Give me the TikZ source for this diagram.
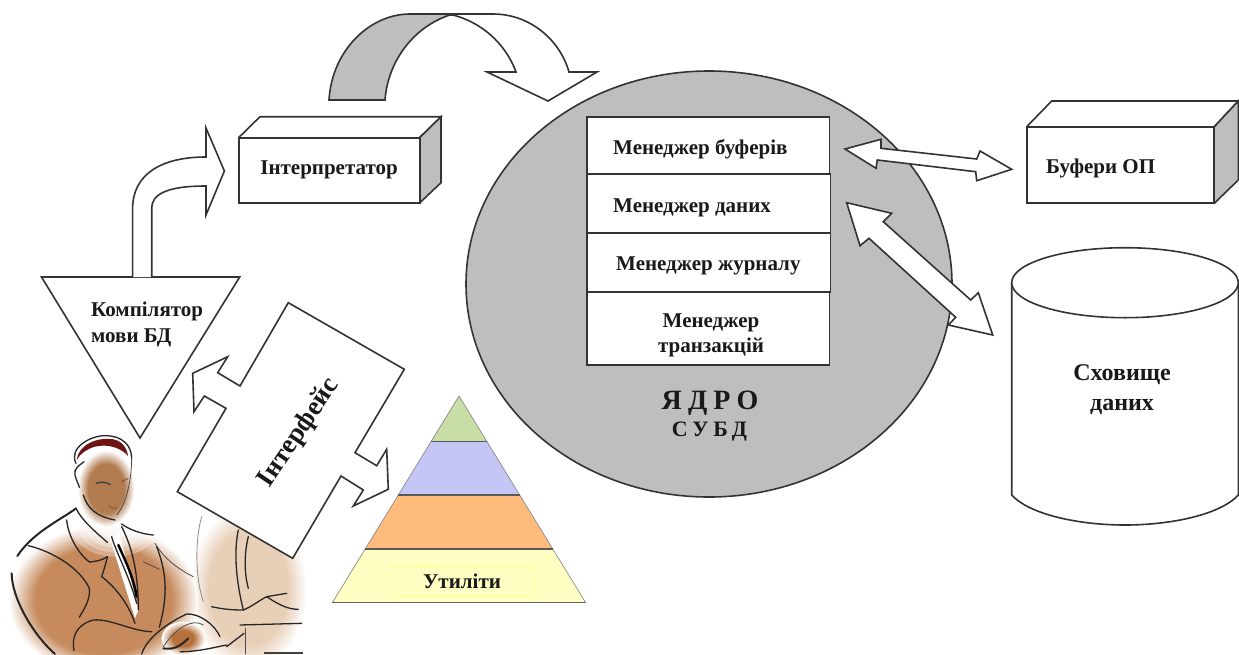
\documentclass[tikz,border=0pt]{standalone}
\usepackage{fontspec}
\setmainfont{Liberation Serif}
\definecolor{lineC}{HTML}{333333}
\definecolor{greyC}{HTML}{BEBEBE}
\definecolor{brownA}{HTML}{C68A5C}
\definecolor{faceA}{HTML}{B27B50}
\definecolor{beigeA}{HTML}{E8CFB8}
\definecolor{handA}{HTML}{B5703C}
\definecolor{hairA}{HTML}{6E1414}
\definecolor{pyrG}{HTML}{C9DDA6}
\definecolor{pyrB}{HTML}{C6C6F6}
\definecolor{pyrO}{HTML}{FFBB7C}
\definecolor{pyrY}{HTML}{FFFFC4}
\definecolor{pyrL}{HTML}{FFFF9E}
\pgfdeclareradialshading{softbody}{\pgfpoint{0bp}{0bp}}{color(0bp)=(brownA); color(18bp)=(brownA); color(25bp)=(white); color(50bp)=(white)}
\pgfdeclareradialshading{softface}{\pgfpoint{0bp}{0bp}}{color(0bp)=(faceA); color(16bp)=(faceA); color(25bp)=(white); color(50bp)=(white)}
\pgfdeclareradialshading{softbeige}{\pgfpoint{0bp}{0bp}}{color(0bp)=(beigeA); color(17bp)=(beigeA); color(25bp)=(white); color(50bp)=(white)}
\pgfdeclareradialshading{softhand}{\pgfpoint{0bp}{0bp}}{color(0bp)=(handA); color(12bp)=(handA); color(25bp)=(white); color(50bp)=(white)}
\tikzset{
  outl/.style={draw=lineC,line width=1.6pt,line join=miter},
  blockarrow/.style={outl,fill=white},
  lbl/.style={font=\fontsize{21}{25}\selectfont\bfseries,text=black!90,inner sep=0pt,align=center},
  brush/.style={draw=black!85,line width=1.3pt,line cap=round},
  brushB/.style={draw=black!85,line width=2pt,line cap=round},
  brushL/.style={draw=black!70,line width=.8pt,line cap=round},
  brushG/.style={draw=black!45,line width=.8pt,line cap=round},
}
\begin{document}
\begin{tikzpicture}[x=1pt,y=-1pt]
\useasboundingbox (0,0) rectangle (1239,654);
\fill[white] (0,0) rectangle (1239,654);

% person
\begin{scope}[shift={(0,380)},x=0.33333pt,y=-0.33333pt]
\shade[shading=softbeige] (745,625) ellipse [x radius=175,y radius=250];
\shade[shading=softbody] (310,660) ellipse [x radius=285,y radius=225];
\foreach \r in {1,.85,.7,.55,.4}{\fill[white,opacity=.3] (345,440) ellipse [x radius=130*\r,y radius=90*\r];}
\shade[shading=softface] (318,325) ellipse [x radius=85,y radius=115];
\shade[shading=softhand] (550,775) ellipse [x radius=65,y radius=50];
\fill[white] (330,475) -- (358,460) -- (415,690) -- (405,715) -- cycle;
\fill[hairA] (230,240) .. controls (235,195) and (290,170) .. (340,178) .. controls (365,182) and (382,205) .. (384,228) .. controls (365,205) and (325,190) .. (285,200) .. controls (260,207) and (240,222) .. (230,240) -- cycle;
\path[brush] (228,250) .. controls (205,205) and (270,165) .. (320,167) .. controls (365,168) and (395,195) .. (395,235);
\path[brushL] (395,235) .. controls (395,270) and (390,310) .. (380,345) .. controls (375,365) and (360,395) .. (350,405);
\path[brush] (252,245) .. controls (240,255) and (220,265) .. (225,285) .. controls (228,300) and (235,310) .. (238,322);
\path[brush] (250,345) .. controls (262,385) and (290,410) .. (345,420);
\path[draw=black!75,line width=1.4pt] (288,310) .. controls (300,305) and (320,306) .. (332,314);
\path[draw=faceA!70!black,line width=1pt] (365,305) -- (385,295);
\path[draw=faceA!80!black,line width=1.2pt] (325,376) .. controls (335,386) and (345,388) .. (352,382);
\path[brushB] (228,385) .. controls (190,415) and (100,455) .. (52,528);
\path[brush] (228,385) .. controls (245,420) and (280,450) .. (322,487);
\path[brush] (200,420) .. controls (205,470) and (235,520) .. (268,546) .. controls (285,545) and (310,540) .. (322,530);
\path[brush] (322,530) .. controls (318,550) and (310,575) .. (305,590) .. controls (345,620) and (385,670) .. (405,730);
\path[brush] (85,497) .. controls (160,515) and (240,565) .. (268,625) .. controls (272,660) and (250,690) .. (238,712);
\path[brushB] (35,580) .. controls (35,650) and (95,760) .. (165,822);
\path[brush] (222,812) .. controls (215,775) and (225,735) .. (280,720) .. controls (330,715) and (400,755) .. (455,755);
\path[brush] (335,470) .. controls (345,510) and (385,580) .. (410,670);
\path[draw=black,line width=2.4pt,line cap=round] (355,495) .. controls (375,540) and (400,590) .. (410,650);
\path[brush] (365,440) .. controls (390,490) and (415,560) .. (415,690);
\path[brush] (365,432) .. controls (390,450) and (425,462) .. (460,465);
\path[brushL] (430,545) -- (478,568);
\path[brushL] (465,490) .. controls (495,540) and (540,570) .. (580,590);
\path[brush] (470,500) .. controls (505,590) and (500,660) .. (478,742);
\path[brush] (425,822) .. controls (440,775) and (500,730) .. (560,702) .. controls (600,700) and (645,735) .. (660,770);
\path[brushL] (490,800) .. controls (530,740) and (580,715) .. (610,735);
\path[brushB] (490,805) .. controls (520,810) and (540,800) .. (565,775);
\path[brush] (540,815) .. controls (600,815) and (650,800) .. (680,795);
\path[brush] (680,800) -- (732,760);
\path[brushG] (605,410) .. controls (585,480) and (585,590) .. (610,665);
\path[brush] (715,450) .. controls (700,520) and (710,610) .. (730,690);
\path[brush] (745,470) .. controls (730,530) and (735,590) .. (745,625);
\path[brush] (635,680) .. controls (670,688) and (700,690) .. (730,690) .. controls (755,680) and (780,660) .. (800,650) -- (860,640);
\path[brush] (800,650) .. controls (830,670) and (860,688) .. (895,688);
\path[brush] (720,735) -- (905,730);
\path[brushL] (735,745) -- (735,822);
\path[draw=black!75,line width=1.2pt] (792,819) -- (908,819);
\end{scope}

% compiler triangle
\draw[outl] (41.5,277) -- (239.7,277) -- (140,438) -- cycle;
\node[lbl,anchor=west] (compA) at (91,311) {Компілятор};
\node[lbl,anchor=west] (compB) at (91,338) {мови БД};

% arrow compiler -> interpreter
\draw[blockarrow] (132.6,277) -- (132.6,208) .. controls (133,175) and (160,157) .. (206,157) -- (206,128) -- (224.4,171) -- (206,215) -- (206,186) .. controls (165,186) and (152,195) .. (151.7,208) -- (151.7,277);

% interpreter box
\draw[outl] (238.6,137.7) -- (260,116.7) -- (441,116.7) -- (419.6,137.7);
\fill[greyC] (419.6,137.7) -- (441,116.7) -- (441,182.7) -- (419.6,203) -- cycle;
\draw[outl] (419.6,137.7) -- (441,116.7) -- (441,182.7) -- (419.6,203);
\node[draw=lineC,line width=1.8pt,fill=white,minimum width=181pt,minimum height=65.3pt,inner sep=0pt,font=\fontsize{21}{25}\selectfont\bfseries,text=black!90] (interp) at (329.1,170.3) {Інтерпретатор};

% kernel
\fill[greyC] (709,284) ellipse [x radius=243,y radius=213];
\draw[outl] (709,284) ellipse [x radius=243,y radius=213];

% top arrow
\draw[blockarrow] (410,14) -- (493,14) .. controls (530,14) and (560,40) .. (569,72) -- (597,72) -- (548,101) -- (487,72) -- (516,72) .. controls (505,42) and (480,22) .. (453,15) -- cycle;
\draw[outl,fill=greyC] (329,100) .. controls (332,50) and (370,14) .. (410,14) -- (453,14) .. controls (415,25) and (388,60) .. (385,100) -- cycle;

% stack
\draw[outl,fill=white] (586.7,116.7) rectangle (829.3,174);
\draw[outl,fill=white] (586.7,174) rectangle (830.3,232.7);
\draw[outl,fill=white] (586.7,232.7) rectangle (830.3,291.7);
\draw[outl,fill=white] (586.7,291.7) rectangle (829.3,365);
\node[lbl,anchor=west] (mb) at (613,149) {Менеджер буферів};
\node[lbl,anchor=west] (md) at (613,208) {Менеджер даних};
\node[lbl,anchor=west] (mj) at (616,265.7) {Менеджер журналу};
\node[lbl] (mt) at (711,335.5) {Менеджер\\транзакцій};
\node[lbl,font=\fontsize{28}{30}\selectfont\bfseries\addfontfeature{LetterSpace=22}] (yadro) at (710,403) {ЯДРО};
\node[lbl,font=\fontsize{22}{24}\selectfont\bfseries\addfontfeature{LetterSpace=22}] (subd) at (709.5,432) {СУБД};

% buffers box
\draw[outl] (1026.7,126.7) -- (1051.7,101) -- (1238.3,101) -- (1214.3,126.7);
\fill[greyC] (1214.3,126.7) -- (1238.3,101) -- (1238.3,180) -- (1214.3,203.3) -- cycle;
\draw[outl] (1214.3,126.7) -- (1238.3,101) -- (1238.3,180) -- (1214.3,203.3);
\draw[draw=lineC,line width=1.8pt,fill=white] (1026.7,126.7) rectangle (1214.3,203.3);
\node[lbl,anchor=west] (buf) at (1046,168) {Буфери ОП};

% cylinder
\draw[outl,fill=white] (1011.7,282.7) -- (1011.7,495) .. controls (1030,515) and (1080,525) .. (1125,525) .. controls (1170,525) and (1220,515) .. (1238.3,495) -- (1238.3,282.7);
\draw[outl,fill=white] (1125,282.7) ellipse [x radius=113.3,y radius=35];
\node[lbl,font=\fontsize{24}{30}\selectfont\bfseries] (store) at (1122,390) {Сховище\\даних};

% double arrows
\draw[blockarrow] (845,149) -- (881,139.3) -- (881,148.3) -- (976.7,159) -- (980,151) -- (1011.7,169.3) -- (976.7,180.7) -- (975.7,171.7) -- (877.3,160) -- (876,168.3) -- cycle;
\draw[blockarrow] (846.7,202.7) -- (891.7,213.3) -- (883.3,221.7) -- (970.7,300) -- (978.3,292.7) -- (992.7,335) -- (948.3,325) -- (955.7,317.3) -- (869,238.3) -- (860,245.7) -- cycle;

% pyramid
\fill[pyrY] (332.3,602.7) -- (585.7,602.7) -- (552.8,549) -- (365.2,549) -- cycle;
\fill[pyrO] (365.2,549) -- (552.8,549) -- (519.7,495) -- (398.3,495) -- cycle;
\fill[pyrB] (398.3,495) -- (519.7,495) -- (487,441.7) -- (431,441.7) -- cycle;
\fill[pyrG] (431,441.7) -- (487,441.7) -- (459,396) -- cycle;
\draw[draw=black!45,line width=.7pt] (332.3,602.7) -- (459,396) -- (585.7,602.7);
\draw[draw=black!60,line width=1.2pt] (332.3,602.7) -- (585.7,602.7);
\draw[draw=black!65,line width=1.2pt] (365.2,549) -- (552.8,549);
\draw[draw=black!65,line width=1.2pt] (398.3,495) -- (519.7,495);
\draw[draw=black!65,line width=1.2pt] (431,441.7) -- (487,441.7);
\node[lbl,draw=pyrL,fill=pyrY,line width=1.5pt,minimum width=141pt,minimum height=30pt] (util) at (462,581) {Утиліти};

% interface
\draw[blockarrow] (288.3,302.7) -- (404.3,369.3) -- (355,452.7) -- (376.7,465.7) -- (386.7,449.3) -- (388.3,489.3) -- (353.3,506) -- (363.3,490) -- (341,476) -- (292.7,558.3) -- (177.3,491.7) -- (226,408.3) -- (204.3,396) -- (194,411.7) -- (192.7,373.3) -- (227.7,356.7) -- (217.7,372.7) -- (240,386) -- cycle;
\node[lbl,font=\fontsize{27}{30}\selectfont\bfseries,rotate=56] (iface) at (299,433) {Інтерфейс};
\end{tikzpicture}
\end{document}
